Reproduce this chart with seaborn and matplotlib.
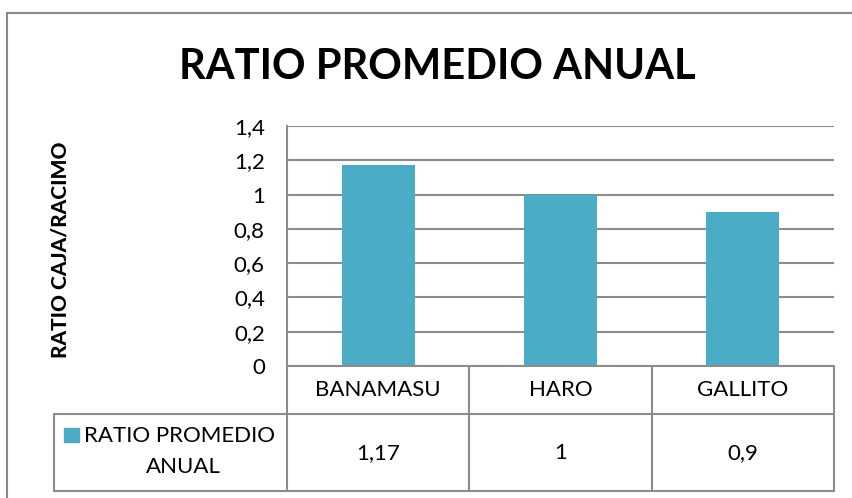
import matplotlib
matplotlib.use("Agg")
import matplotlib.pyplot as plt
import matplotlib.transforms as mtransforms
from matplotlib.lines import Line2D
from matplotlib.patches import Rectangle
import seaborn as sns
import pandas as pd

categories = ["BANAMASU", "HARO", "GALLITO"]
values = [1.17, 1.0, 0.9]
value_labels = ["1,17", "1", "0,9"]
yticks = [0, 0.2, 0.4, 0.6, 0.8, 1.0, 1.2, 1.4]
ytick_labels = ["0", "0,2", "0,4", "0,6", "0,8", "1", "1,2", "1,4"]
series_name = "RATIO PROMEDIO ANUAL"
title = "RATIO PROMEDIO ANUAL"
ylabel = "RATIO CAJA/RACIMO"

sns.set_theme(style="white")
plt.rcParams['font.family'] = ['Lato', 'DejaVu Sans']

W, H = 852, 498
fig = plt.figure(figsize=(W / 100, H / 100), dpi=100)
fig.patch.set_facecolor("white")

def fx(px):
    return px / W

def fy(py):
    return 1 - py / H

# outer chart border
fig.add_artist(Line2D([fx(7), fx(7)], [fy(13), 0], color="#888888", lw=1.5))
fig.add_artist(Line2D([fx(7), 1], [fy(13), fy(13)], color="#888888", lw=1.5))

ax_l, ax_r, ax_t, ax_b = 287, 834, 126, 366
ax = fig.add_axes([fx(ax_l), fy(ax_b), fx(ax_r - ax_l), (ax_b - ax_t) / H])

df = pd.DataFrame({"cat": categories, "val": values})
bar_color = "#4BACC6"
sns.barplot(data=df, x="cat", y="val", color=bar_color, width=0.4, ax=ax,
            saturation=1, edgecolor="none")

fs = 16
grid_c = "#8c8c8c"
ax.set_ylim(0, 1.4)
ax.set_xlim(-0.5, len(categories) - 0.5)
ax.set_yticks(yticks)
ax.set_yticklabels(ytick_labels, fontsize=fs, color="black")
ax.yaxis.grid(True, color=grid_c, lw=1.5)
ax.set_axisbelow(True)
ax.tick_params(axis="y", length=0, pad=16)
ax.set_xticks([])
ax.set_xlabel("")
ax.set_ylabel("")
for s in ["top", "right", "bottom"]:
    ax.spines[s].set_visible(False)
ax.spines["left"].set_color(grid_c)
ax.spines["left"].set_linewidth(1.5)

# data table
ah = ax_b - ax_t
aw = ax_r - ax_l

def ay(py):
    return -(py - ax_b) / ah

def axx(px):
    return (px - ax_l) / aw

blend = mtransforms.blended_transform_factory(ax.transData, ax.transAxes)
tc = "#8c8c8c"
lw = 1.5
y_row1 = ay(414)
y_row2 = ay(491)
ax.add_line(Line2D([axx(54), 1], [y_row1, y_row1], transform=ax.transAxes, color=tc, lw=lw, clip_on=False))
ax.add_line(Line2D([axx(54), 1], [y_row2, y_row2], transform=ax.transAxes, color=tc, lw=lw, clip_on=False))
ax.add_line(Line2D([0, 1], [0, 0], transform=ax.transAxes, color=tc, lw=lw, clip_on=False))
ax.add_line(Line2D([0, 0], [0, y_row2], transform=ax.transAxes, color=tc, lw=lw, clip_on=False))
ax.add_line(Line2D([1, 1], [0, y_row2], transform=ax.transAxes, color=tc, lw=lw, clip_on=False))
ax.add_line(Line2D([axx(54), axx(54)], [y_row1, y_row2], transform=ax.transAxes, color=tc, lw=lw, clip_on=False))
for i in range(len(categories) - 1):
    ax.add_line(Line2D([i + 0.5, i + 0.5], [0, y_row2], transform=blend, color=tc, lw=lw, clip_on=False))

for i, (c, v) in enumerate(zip(categories, value_labels)):
    ax.text(i, ay(390), c, transform=blend, ha="center", va="center", fontsize=fs, color="black")
    ax.text(i, ay(453), v, transform=blend, ha="center", va="center", fontsize=fs, color="black")

# legend key in table
ax.add_patch(Rectangle((axx(64), ay(442)), axx(79) - axx(64), ay(428) - ay(442),
                       transform=ax.transAxes, color=bar_color, clip_on=False))
name_parts = series_name.split(" ")
ax.text(axx(84), ay(436), " ".join(name_parts[:2]), transform=ax.transAxes,
        ha="left", va="center", fontsize=fs, color="black")
ax.text(axx(183), ay(467), " ".join(name_parts[2:]), transform=ax.transAxes,
        ha="center", va="center", fontsize=fs, color="black")

fig.text(fx(437), fy(67), title, ha="center", va="center", fontsize=30, fontweight="bold", color="black")
fig.text(fx(60), fy(250), ylabel, ha="center", va="center", rotation=90, fontsize=15, fontweight="black", color="black")

fig.savefig("out.png", dpi=100, facecolor="white")
